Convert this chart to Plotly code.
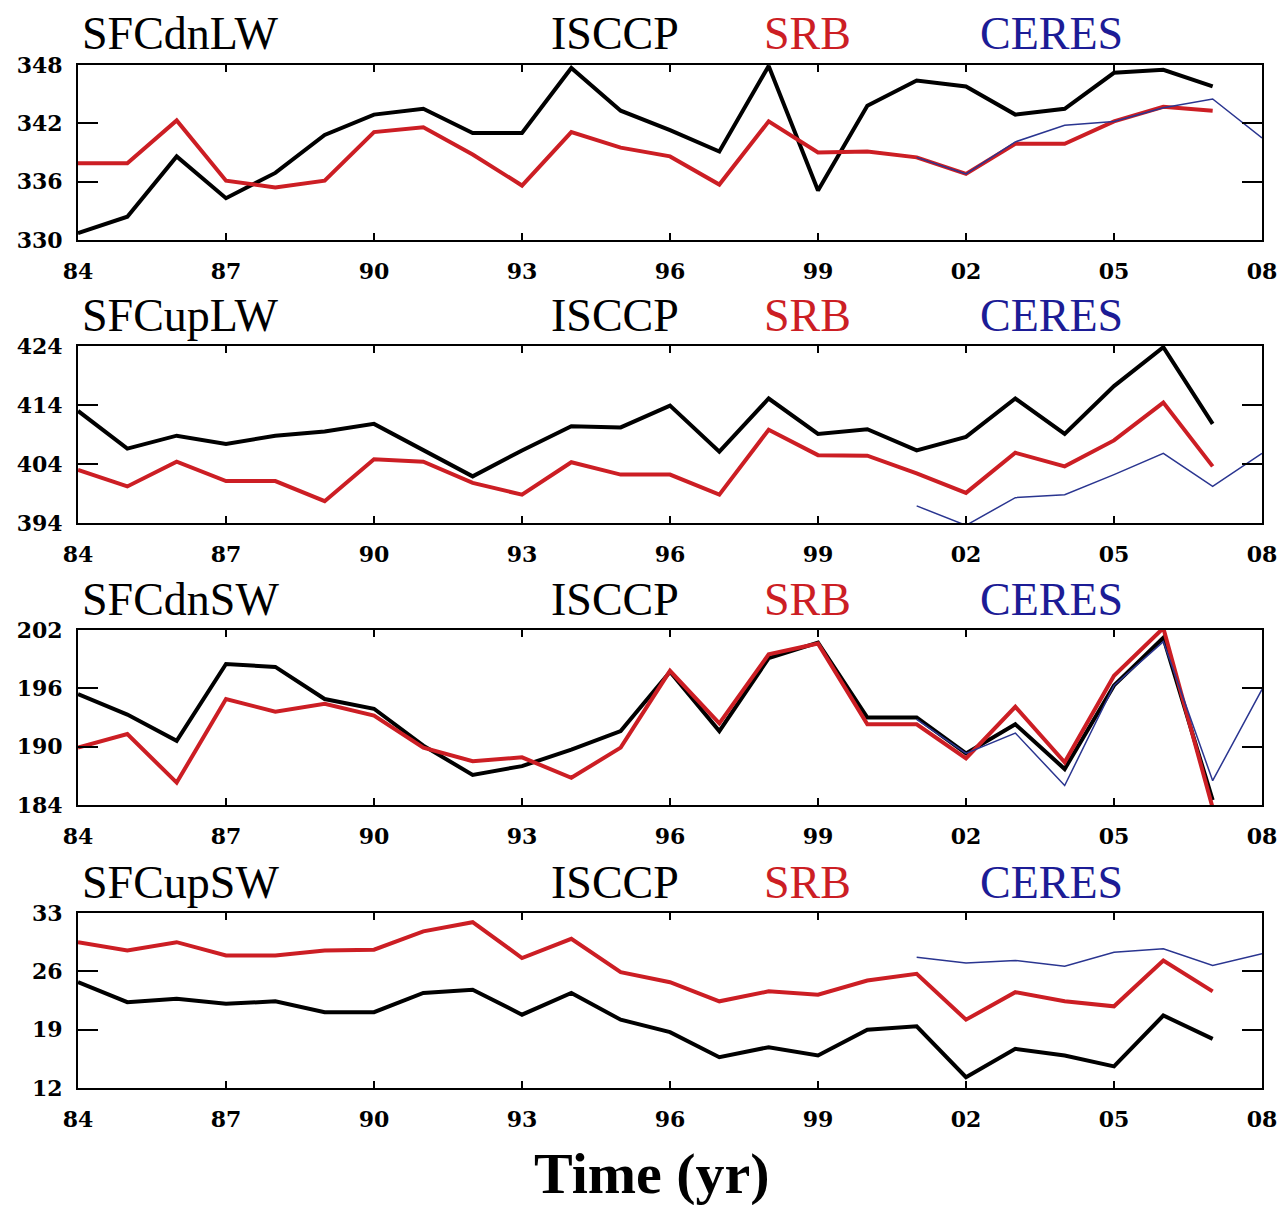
import plotly.graph_objects as go

W, H = 1283, 1205

years_main = list(range(1984, 2008))
years_ceres = list(range(2001, 2009))

x_tickvals = [1984, 1987, 1990, 1993, 1996, 1999, 2002, 2005, 2008]
x_ticktext = ["84", "87", "90", "93", "96", "99", "02", "05", "08"]

names = ["SFCdnLW", "SFCupLW", "SFCdnSW", "SFCupSW"]

dnlw_isccp = [330.7, 332.4, 338.6, 334.3, 336.9, 340.8, 342.9, 343.5, 341.0, 341.0, 347.7, 343.3,
              341.3, 339.1, 347.9, 335.1, 343.8, 346.4, 345.8, 342.9, 343.5, 347.2, 347.5, 345.8]
dnlw_srb = [337.9, 337.9, 342.3, 336.1, 335.4, 336.1, 341.1, 341.6, 338.8, 335.6, 341.1, 339.5,
            338.6, 335.7, 342.2, 339.0, 339.1, 338.5, 336.8, 339.9, 339.9, 342.2, 343.7, 343.3]
dnlw_ceres = [338.5, 336.8, 340.1, 341.8, 342.2, 343.6, 344.5, 340.5]

uplw_isccp = [413.0, 406.6, 408.8, 407.4, 408.8, 409.5, 410.8, 406.3, 401.9, 406.3, 410.4, 410.2,
              413.9, 406.1, 415.1, 409.1, 409.9, 406.3, 408.6, 415.1, 409.1, 417.2, 423.8, 410.8]
uplw_srb = [403.0, 400.2, 404.4, 401.1, 401.1, 397.7, 404.8, 404.4, 400.8, 398.8, 404.3, 402.2,
            402.2, 398.8, 409.8, 405.5, 405.4, 402.4, 399.1, 405.9, 403.6, 408.0, 414.4, 403.6]
uplw_ceres = [396.9, 393.6, 398.3, 398.8, 402.2, 405.8, 400.2, 405.8]

dnsw_isccp = [195.4, 193.3, 190.6, 198.5, 198.2, 194.9, 193.9, 190.1, 187.1, 188.0, 189.7, 191.6,
              197.7, 191.6, 199.1, 200.7, 193.0, 193.0, 189.3, 192.3, 187.7, 196.3, 201.2, 184.5]
dnsw_srb = [189.9, 191.3, 186.3, 194.9, 193.6, 194.4, 193.2, 189.9, 188.5, 188.9, 186.8, 189.9,
            197.8, 192.4, 199.5, 200.6, 192.3, 192.3, 188.8, 194.1, 188.4, 197.3, 202.2, 183.7]
dnsw_ceres = [192.8, 189.3, 191.4, 186.0, 196.3, 200.8, 186.5, 195.9]

upsw_isccp = [24.7, 22.3, 22.7, 22.1, 22.4, 21.1, 21.1, 23.4, 23.8, 20.8, 23.4, 20.2,
              18.7, 15.7, 16.9, 15.9, 19.0, 19.4, 13.3, 16.7, 15.9, 14.6, 20.7, 17.9]
upsw_srb = [29.5, 28.5, 29.5, 27.9, 27.9, 28.5, 28.6, 30.8, 31.9, 27.6, 29.9, 25.9,
            24.7, 22.4, 23.6, 23.2, 24.9, 25.7, 20.2, 23.5, 22.4, 21.8, 27.3, 23.6]
upsw_ceres = [27.7, 27.0, 27.3, 26.6, 28.3, 28.7, 26.7, 28.1]

y_ticks = [[330, 336, 342, 348], [394, 404, 414, 424], [184, 190, 196, 202], [12, 19, 26, 33]]
y_ranges = [[330, 348], [394, 424], [184, 202], [12, 33]]

isccp = [dnlw_isccp, uplw_isccp, dnsw_isccp, upsw_isccp]
srb = [dnlw_srb, uplw_srb, dnsw_srb, upsw_srb]
ceres = [dnlw_ceres, uplw_ceres, dnsw_ceres, upsw_ceres]

# panel boxes in pixels (top, bottom)
boxes = [(65, 240), (346, 523), (630, 805), (913, 1088)]
title_y = [33, 316, 599, 883]
x_left, x_right = 78, 1262

RED = "#cc1e24"
BLUE = "#2a3590"
fig = go.Figure()

tickfont = dict(family="DejaVu Serif", size=22, color="black", weight="bold")

layout_axes = {}
annotations = []
for i in range(4):
    xa = "x" if i == 0 else f"x{i+1}"
    ya = "y" if i == 0 else f"y{i+1}"
    fig.add_trace(go.Scatter(x=years_main, y=isccp[i], mode="lines", xaxis=xa, yaxis=ya,
                             line=dict(color="black", width=4), showlegend=False))
    fig.add_trace(go.Scatter(x=years_main, y=srb[i], mode="lines", xaxis=xa, yaxis=ya,
                             line=dict(color=RED, width=4), showlegend=False))
    fig.add_trace(go.Scatter(x=years_ceres, y=ceres[i], mode="lines", xaxis=xa, yaxis=ya,
                             line=dict(color=BLUE, width=1.5), showlegend=False))
    top, bot = boxes[i]
    xkey = "xaxis" if i == 0 else f"xaxis{i+1}"
    ykey = "yaxis" if i == 0 else f"yaxis{i+1}"
    layout_axes[xkey] = dict(
        domain=[x_left / W, x_right / W], range=[1984, 2008], anchor=ya,
        tickmode="array", tickvals=x_tickvals, ticktext=x_ticktext,
        ticks="inside", ticklen=7, tickwidth=1.5, tickcolor="black",
        mirror="ticks", showline=True, linewidth=2, linecolor="black",
        showgrid=False, zeroline=False, tickfont=tickfont, ticklabelstandoff=11,
        automargin=False, fixedrange=True,
    )
    layout_axes[ykey] = dict(
        domain=[1 - bot / H, 1 - top / H], range=y_ranges[i], anchor=xa,
        tickmode="array", tickvals=y_ticks[i], ticktext=[str(v) for v in y_ticks[i]],
        ticks="inside", ticklen=20, tickwidth=2, tickcolor="black",
        mirror="ticks", showline=True, linewidth=2, linecolor="black",
        showgrid=False, zeroline=False, tickfont=tickfont, ticklabelstandoff=9,
        automargin=False, fixedrange=True,
    )
    ty = 1 - title_y[i] / H
    tfont = dict(family="Liberation Serif", size=46)
    annotations.append(dict(x=80 / W, y=ty, xref="paper", yref="paper", text=names[i],
                            showarrow=False, xanchor="left", yanchor="middle",
                            font=dict(tfont, color="black")))
    annotations.append(dict(x=615 / W, y=ty, xref="paper", yref="paper", text="ISCCP",
                            showarrow=False, xanchor="center", yanchor="middle",
                            font=dict(tfont, color="black")))
    annotations.append(dict(x=807 / W, y=ty, xref="paper", yref="paper", text="SRB",
                            showarrow=False, xanchor="center", yanchor="middle",
                            font=dict(tfont, color=RED)))
    annotations.append(dict(x=1051 / W, y=ty, xref="paper", yref="paper", text="CERES",
                            showarrow=False, xanchor="center", yanchor="middle",
                            font=dict(tfont, color="#1c1c96")))

annotations.append(dict(x=652 / W, y=1 - 1173 / H, xref="paper", yref="paper", text="Time (yr)",
                        showarrow=False, xanchor="center", yanchor="middle",
                        font=dict(family="Liberation Serif", size=58, color="black", weight="bold")))

fig.update_layout(
    width=W, height=H, margin=dict(l=0, r=0, t=0, b=0),
    paper_bgcolor="white", plot_bgcolor="white",
    annotations=annotations, showlegend=False, template="none",
    **layout_axes,
)

fig.write_html("out.html")
